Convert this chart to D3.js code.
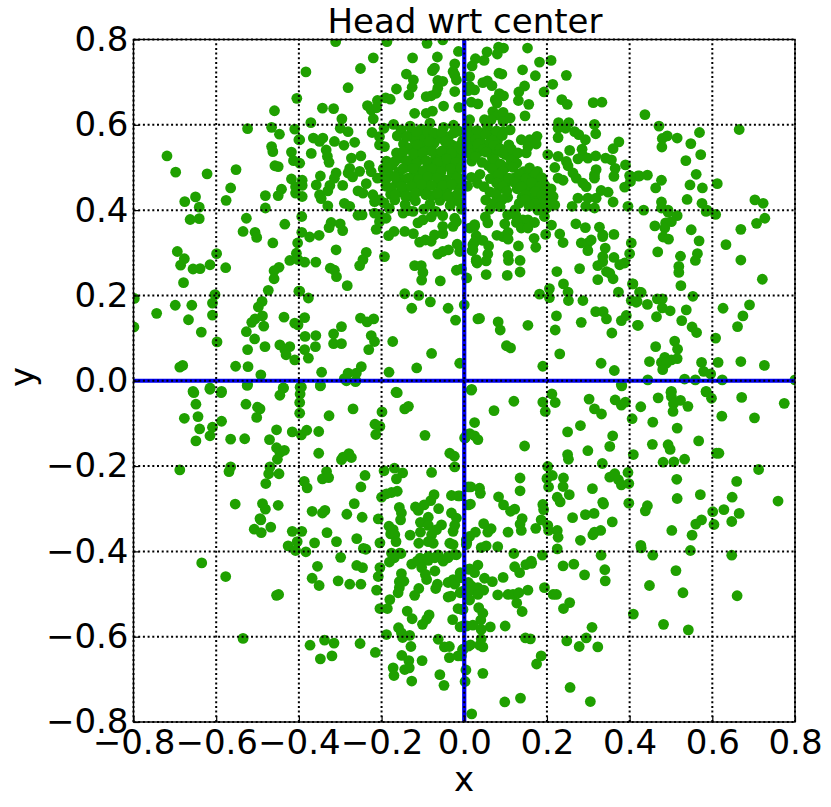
<!DOCTYPE html>
<html><head><meta charset="utf-8">
<script src="https://cdn.jsdelivr.net/npm/d3@7/dist/d3.min.js"></script>
<style>html,body{margin:0;padding:0;background:#fff}svg{display:block}text{font-family:"DejaVu Sans",sans-serif;fill:#000}</style>
</head><body><svg id="c" width="831" height="807"></svg>
<script>
const titleText = "Head wrt center";
const xLabel = "x", yLabel = "y";
const tickValues = [-0.8,-0.6,-0.4,-0.2,0,0.2,0.4,0.6,0.8];

const upperLeft = [[-.719,.527],[-.698,.489],[-.622,.485],[-.552,.495],[-.565,.452],[-.576,.423],[-.65,.431],[-.676,.42],[-.641,.407],[-.524,.591],[-.459,.633],[-.466,.594],[-.447,.578],[-.41,.59],[-.405,.662],[-.4,.565],[-.466,.549],[-.463,.537],[-.418,.536],[-.413,.516],[-.458,.504],[-.45,.502],[-.418,.473],[-.442,.449],[-.45,.434],[-.481,.434],[-.408,.455],[-.408,.44],[-.481,.405]];
const upperMidLeft = [[-.311,.795],[-.187,.795],[-.09,.791],[-.052,.799],[-.22,.757],[-.125,.757],[-.065,.759],[-.014,.772],[-.251,.732],[-.383,.724],[-.023,.743],[-.072,.733],[-.077,.727],[-.14,.719],[-.123,.705],[-.027,.725],[-.023,.717],[-.281,.687],[-.126,.688],[-.164,.684],[-.134,.67],[-.064,.704],[-.052,.702],[-.019,.705],[-.064,.686],[-.023,.678],[-.092,.666],[-.08,.668],[-.068,.674],[-.19,.663],[-.179,.66],[-.21,.657],[-.234,.645],[-.225,.635],[-.212,.64],[-.343,.639],[-.316,.638],[-.12,.627],[-.092,.627],[-.077,.632],[-.05,.644],[-.013,.641],[-.296,.614],[-.22,.614],[-.371,.605],[-.3,.592],[-.281,.584],[-.223,.582],[-.398,.565],[-.365,.569],[-.342,.569],[-.35,.561],[-.314,.561],[-.291,.552],[-.265,.559],[-.37,.533],[-.334,.541],[-.331,.526],[-.327,.512],[-.273,.522],[-.25,.527],[-.205,.553],[-.193,.549],[-.205,.572],[-.398,.51],[-.31,.487],[-.314,.475],[-.277,.498],[-.281,.487],[-.253,.491],[-.27,.478],[-.348,.48],[-.358,.459],[-.325,.458],[-.392,.47],[-.392,.458],[-.392,.432],[-.35,.436],[-.346,.427],[-.33,.445],[-.294,.458],[-.237,.462],[-.257,.445],[-.245,.44],[-.221,.436],[-.29,.416],[-.277,.409],[-.33,.41],[-.217,.42],[-.205,.424],[-.23,.505],[-.225,.49],[-.21,.475]];
const denseLeft = [[-.194,.592],[-.171,.601],[-.153,.588],[-.131,.597],[-.104,.59],[-.083,.604],[-.05,.594],[-.026,.599],[-.162,.574],[-.128,.581],[-.102,.569],[-.088,.583],[-.038,.572],[-.013,.585],[-.147,.555],[-.121,.566],[-.097,.548],[-.073,.557],[-.058,.569],[-.03,.553],[-.004,.563],[-.164,.534],[-.133,.545],[-.114,.53],[-.087,.541],[-.068,.529],[-.043,.546],[-.017,.533],[-.188,.515],[-.152,.522],[-.127,.512],[-.103,.524],[-.076,.513],[-.053,.526],[-.032,.511],[-.008,.523],[-.196,.497],[-.174,.505],[-.158,.489],[-.137,.501],[-.113,.491],[-.088,.504],[-.067,.494],[-.047,.506],[-.019,.492],[-.201,.476],[-.181,.484],[-.149,.472],[-.123,.481],[-.098,.471],[-.077,.484],[-.053,.473],[-.029,.486],[-.007,.474],[-.189,.456],[-.163,.464],[-.142,.451],[-.117,.463],[-.092,.452],[-.063,.462],[-.041,.45],[-.018,.458],[-.178,.437],[-.153,.443],[-.128,.432],[-.107,.446],[-.078,.434],[-.049,.441],[-.027,.431],[-.194,.417],[-.168,.424],[-.143,.413],[-.118,.422],[-.083,.414],[-.059,.423],[-.034,.411],[-.012,.419],[-.181,.404],[-.135,.399],[-.098,.402],[-.069,.397],[-.007,.402]];
const denseFill = [[-.14,.572],[-.116,.584],[-.073,.581],[-.055,.582],[-.025,.581],[-.113,.553],[-.085,.561],[-.046,.561],[-.014,.55],[-.148,.537],[-.123,.532],[-.1,.535],[-.077,.537],[-.055,.538],[-.031,.533],[-.006,.541],[-.168,.514],[-.14,.516],[-.115,.51],[-.092,.516],[-.065,.511],[-.043,.52],[-.02,.512],[-.186,.5],[-.148,.497],[-.124,.498],[-.099,.492],[-.078,.496],[-.056,.49],[-.033,.498],[-.008,.5],[-.19,.47],[-.168,.478],[-.136,.475],[-.111,.472],[-.088,.478],[-.066,.475],[-.042,.47],[-.018,.475],[-.176,.452],[-.152,.455],[-.128,.456],[-.103,.46],[-.079,.458],[-.052,.458],[-.03,.46],[-.008,.45],[-.167,.436],[-.142,.432],[-.118,.44],[-.093,.436],[-.065,.44],[-.04,.432],[-.016,.438],[.021,.58],[.043,.58],[.066,.58],[.02,.56],[.041,.558],[.062,.558],[.08,.562],[.02,.54],[.04,.538],[.06,.54],[.08,.538],[.018,.515],[.058,.505],[.08,.505],[.1,.5],[.1,.53],[.12,.525],[.075,.48],[.095,.472],[.12,.475],[.14,.472],[.16,.478],[.18,.468],[.1,.46],[.128,.45],[.15,.45],[.17,.455],[.195,.458],[.085,.45],[.16,.43],[.18,.432],[.14,.43],[.105,.43],[.19,.415],[.16,.418],[.21,.45],[.205,.43]];
const upperMidRight = [[.153,.78],[.083,.782],[.095,.78],[.055,.771],[.08,.766],[.027,.755],[.048,.751],[.019,.738],[.182,.747],[.21,.751],[.141,.729],[.084,.721],[.091,.719],[.172,.715],[.247,.716],[.013,.713],[.013,.69],[.009,.68],[.025,.682],[.045,.699],[.056,.703],[.067,.692],[.146,.691],[.214,.695],[.132,.677],[.193,.677],[.085,.673],[.095,.668],[.131,.657],[.156,.648],[.075,.659],[.079,.651],[.017,.653],[.033,.649],[.236,.659],[.249,.648],[.312,.652],[.333,.653],[.069,.631],[.081,.623],[.094,.629],[.147,.621],[.111,.616],[.049,.612],[.065,.612],[.013,.612],[.094,.608],[.228,.605],[.253,.605],[.315,.601],[.227,.592],[.245,.592],[.094,.584],[.111,.588],[.267,.584],[.277,.577],[.293,.565],[.318,.579],[.227,.57],[.374,.56],[.36,.544],[.138,.565],[.158,.565],[.176,.573],[.174,.555],[.108,.553],[.114,.543],[.13,.534],[.154,.549],[.15,.534],[.255,.54],[.285,.543],[.202,.53],[.227,.526],[.287,.528],[.299,.522],[.318,.527],[.275,.52],[.342,.522],[.356,.518],[.247,.514],[.251,.504],[.219,.5],[.39,.506],[.365,.498],[.319,.495],[.315,.483],[.315,.475],[.362,.479],[.4,.481],[.42,.48],[.263,.487],[.271,.475],[.227,.475],[.239,.47],[.388,.454],[.287,.463],[.295,.455],[.331,.446],[.348,.442],[.275,.428],[.299,.428],[.319,.428],[.36,.419],[.215,.432],[.206,.416],[.219,.412],[.261,.409],[.294,.409],[.396,.409],[.315,.405]];
const denseRight = [[.008,.593],[.031,.587],[.056,.596],[.078,.586],[.012,.572],[.028,.566],[.052,.578],[.068,.564],[.092,.575],[.007,.548],[.033,.556],[.047,.543],[.072,.552],[.087,.544],[.013,.533],[.027,.525],[.053,.536],[.068,.522],[.093,.534],[.043,.512],[.073,.519],[.088,.508],[.113,.517],[.127,.51],[.067,.497],[.093,.491],[.118,.5],[.143,.49],[.158,.499],[.177,.491],[.017,.477],[.038,.484],[.063,.474],[.082,.483],[.108,.475],[.133,.485],[.148,.473],[.172,.484],[.188,.476],[.008,.456],[.032,.463],[.048,.455],[.078,.464],[.093,.456],[.122,.465],[.137,.455],[.163,.464],[.183,.455],[.062,.443],[.077,.436],[.103,.444],[.148,.436],[.172,.444],[.188,.435],[.203,.443],[.052,.424],[.073,.417],[.092,.425],[.133,.416],[.147,.425],[.172,.416],[.193,.424],[.062,.402],[.087,.408],[.123,.401],[.157,.409],[.178,.4],[.2,.405]];
const upperRight = [[.437,.624],[.471,.597],[.569,.582],[.665,.589],[.491,.574],[.479,.568],[.515,.569],[.478,.548],[.548,.556],[.572,.53],[.536,.516],[.561,.484],[.424,.48],[.443,.482],[.402,.479],[.402,.467],[.477,.47],[.463,.452],[.546,.459],[.576,.452],[.612,.462],[.539,.425],[.477,.419],[.575,.416],[.703,.424],[.723,.416],[.434,.4],[.477,.405],[.493,.4],[.587,.4]];
const midLeft = [[-.663,.378],[-.641,.38],[-.527,.381],[-.434,.367],[-.535,.35],[-.506,.348],[-.502,.336],[-.463,.323],[-.403,.323],[-.694,.303],[-.599,.298],[-.677,.286],[-.686,.271],[-.615,.272],[-.656,.262],[-.639,.263],[-.577,.265],[-.448,.266],[-.46,.258],[-.422,.282],[-.406,.299],[-.402,.284],[-.46,.239],[-.679,.23],[-.474,.212],[-.4,.21],[-.603,.202],[-.798,.193],[-.609,.182],[-.699,.177],[-.659,.177],[-.744,.158],[-.609,.154],[-.489,.186],[-.498,.173],[-.488,.152],[-.506,.145],[-.514,.137],[-.667,.143],[-.436,.149],[-.41,.135],[-.402,.131],[-.485,.128],[-.799,.126],[-.636,.114],[-.527,.115],[-.507,.098],[-.598,.091],[-.524,.073],[-.482,.08],[-.446,.084],[-.422,.08],[-.434,.073],[-.431,.061],[-.41,.049],[-.688,.032],[-.681,.036],[-.553,.034],[-.523,.033],[-.492,.014],[-.524,-.009],[-.615,-.017],[-.587,-.025],[-.656,-.025],[-.438,-.017]];
const midCenterLeft = [[-.393,.385],[-.257,.388],[-.247,.389],[-.217,.393],[-.205,.389],[-.189,.381],[-.205,.373],[-.213,.355],[-.148,.393],[-.124,.397],[-.112,.37],[-.1,.377],[-.08,.384],[-.052,.387],[-.023,.381],[-.322,.371],[-.327,.359],[-.3,.368],[-.294,.352],[-.393,.348],[-.374,.337],[-.351,.341],[-.17,.35],[-.183,.34],[-.144,.35],[-.123,.345],[-.108,.325],[-.094,.33],[-.08,.327],[-.072,.342],[-.052,.345],[-.052,.362],[-.027,.362],[-.019,.373],[-.31,.307],[-.237,.301],[-.245,.284],[-.253,.27],[-.193,.291],[-.064,.297],[-.052,.303],[-.038,.307],[-.017,.32],[-.011,.303],[-.386,.278],[-.359,.278],[-.324,.264],[-.314,.259],[-.309,.244],[-.283,.223],[-.12,.27],[-.104,.27],[-.1,.254],[-.103,.236],[-.019,.259],[-.007,.262],[-.058,.234],[-.144,.204],[-.11,.2],[-.082,.185],[-.377,.194],[-.398,.21],[-.127,.17],[-.039,.17],[0,.178],[-.021,.142],[-.386,.148],[-.251,.147],[-.235,.138],[-.219,.145],[-.297,.127],[-.385,.104],[-.359,.106],[-.316,.11],[-.316,.087],[-.297,.087],[-.36,.08],[-.225,.106],[-.217,.092],[-.231,.073],[-.173,.092],[-.386,.073],[-.377,.053],[-.079,.064],[-.011,.041],[-.249,.033],[-.115,.03],[-.182,.02],[-.345,.02],[-.281,.018],[-.29,.005],[-.261,.018],[-.263,-.002],[-.394,-.015],[-.348,-.011],[-.165,-.027]];
const midCenterRight = [[.025,.362],[.013,.358],[.021,.319],[.019,.305],[.029,.28],[.033,.145],[.018,-.02],[.051,.384],[.057,.37],[.025,.366],[.098,.368],[.105,.389],[.125,.387],[.142,.377],[.154,.377],[.17,.371],[.126,.371],[.138,.358],[.154,.358],[.194,.385],[.211,.365],[.27,.368],[.293,.359],[.231,.344],[.239,.324],[.197,.343],[.169,.334],[.173,.313],[.079,.341],[.094,.338],[.106,.348],[.106,.332],[.131,.316],[.029,.34],[.025,.325],[.021,.307],[.045,.329],[.059,.316],[.057,.297],[.053,.281],[.029,.284],[.031,.276],[.106,.294],[.107,.282],[.135,.282],[.135,.255],[.053,.249],[.104,.247],[.006,.241],[.224,.256],[.279,.263],[.24,.227],[.323,.237],[.206,.216],[.206,.195],[.251,.208],[.252,.188],[.182,.203],[.287,.188],[.373,.208],[.283,.323],[.299,.323],[.307,.33],[.327,.36],[.335,.342],[.335,.338],[.362,.343],[.299,.305],[.341,.311],[.335,.291],[.335,.279],[.362,.289],[.376,.272],[.388,.276],[.323,.27],[.404,.323],[.4,.298],[.344,.256],[.352,.252],[.36,.239],[.407,.227],[.424,.208],[.404,.188],[.416,.184],[.318,.162],[.336,.162],[.344,.145],[.38,.141],[.392,.153],[.419,.13],[.223,.152],[.283,.137],[.22,.119],[.357,.112],[.037,.146],[.082,.138],[.087,.119],[.154,.13],[.102,.082],[.112,.077],[.231,.063],[.331,.041],[.363,.024],[.19,.034],[.38,-.009]];
const midRight = [[.493,.395],[.515,.387],[.501,.373],[.487,.37],[.461,.363],[.485,.358],[.585,.397],[.608,.39],[.549,.354],[.727,.381],[.707,.369],[.669,.355],[.481,.337],[.494,.332],[.568,.328],[.633,.319],[.468,.302],[.523,.292],[.564,.298],[.559,.282],[.669,.283],[.519,.268],[.519,.254],[.721,.238],[.524,.223],[.408,.227],[.428,.207],[.418,.186],[.467,.192],[.479,.192],[.553,.198],[.443,.179],[.479,.171],[.498,.164],[.537,.166],[.626,.17],[.69,.178],[.465,.15],[.526,.141],[.674,.152],[.421,.13],[.661,.127],[.551,.126],[.562,.113],[.608,.1],[.509,.093],[.463,.08],[.516,.074],[.448,.045],[.485,.055],[.477,.043],[.501,.049],[.515,.052],[.489,.041],[.48,.026],[.574,.043],[.614,.043],[.669,.045],[.726,.036],[.579,.022],[.596,.016],[.444,.002],[.533,.004],[.559,.002],[.624,.002],[.8,.002],[.501,-.025],[.585,-.025]];
const lowerLeft = [[-.654,-.028],[-.615,-.02],[-.588,-.028],[-.525,-.011],[-.437,-.017],[-.446,-.034],[-.397,-.015],[-.397,-.031],[-.398,-.051],[-.398,-.076],[-.348,-.012],[-.285,0],[-.262,0],[-.162,-.028],[-.649,-.055],[-.528,-.055],[-.5,-.062],[-.494,-.066],[-.502,-.086],[-.644,-.084],[-.677,-.088],[-.269,-.066],[-.327,-.082],[-.199,-.073],[-.144,-.066],[-.135,-.06],[-.587,-.095],[-.609,-.109],[-.64,-.113],[-.615,-.129],[-.649,-.141],[-.565,-.137],[-.531,-.136],[-.454,-.115],[-.471,-.138],[-.416,-.12],[-.394,-.127],[-.381,-.116],[-.352,-.119],[-.216,-.102],[-.204,-.107],[-.214,-.126],[-.095,-.128],[.006,-.127],[.002,-.134],[-.454,-.157],[-.446,-.168],[-.435,-.163],[-.452,-.184],[-.352,-.17],[-.293,-.179],[-.279,-.171],[-.273,-.18],[-.297,-.185],[-.035,-.17],[-.024,-.177],[-.023,-.202],[-.688,-.209],[-.565,-.202],[-.569,-.213],[-.47,-.202],[-.473,-.218],[-.448,-.218],[-.48,-.241],[-.387,-.236],[-.38,-.251],[-.333,-.213],[-.343,-.23],[-.328,-.227],[-.24,-.222],[-.194,-.211],[-.169,-.205],[-.149,-.216],[-.164,-.23],[-.079,-.215],[-.25,-.249],[-.554,-.289],[-.488,-.288],[-.481,-.301],[-.45,-.292],[-.2,-.273],[-.188,-.265],[-.176,-.262],[-.162,-.259],[-.031,-.269],[-.015,-.27],[-.073,-.267],[-.081,-.281],[-.097,-.291],[-.118,-.296],[-.111,-.304],[-.266,-.288],[-.368,-.306],[-.343,-.31],[-.337,-.304],[-.284,-.313],[-.247,-.32],[-.157,-.297],[-.152,-.31],[-.154,-.326],[-.062,-.3],[-.031,-.31],[-.019,-.322],[.01,-.291],[-.494,-.323],[-.492,-.326],[-.468,-.343],[-.508,-.348],[-.491,-.356],[-.416,-.353],[-.393,-.353],[-.332,-.356],[-.208,-.324],[-.182,-.341],[-.172,-.349],[-.178,-.359],[-.168,-.361],[-.165,-.377],[-.131,-.362],[-.106,-.332],[-.087,-.32],[-.087,-.339],[-.106,-.355],[-.055,-.338],[-.067,-.349],[-.079,-.361],[-.023,-.339],[-.027,-.353],[-.404,-.377],[-.426,-.387],[-.408,-.398],[-.383,-.401],[-.362,-.38],[-.309,-.377],[-.26,-.37],[-.244,-.393],[-.238,-.395],[-.204,-.38],[-.11,-.381],[-.075,-.381],[-.087,-.377],[-.035,-.381],[-.027,-.384],[-.176,-.404],[-.156,-.404],[.006,-.38],[.01,-.249],[-.107,-.416],[-.087,-.412],[-.063,-.408],[-.039,-.412],[-.019,-.408]];
const lowerRight = [[.017,-.022],[.12,-.048],[.072,-.07],[.19,-.05],[.196,-.072],[.212,-.031],[.22,-.051],[.302,-.043],[.315,-.066],[.332,-.078],[.381,-.012],[.365,-.045],[.38,-.057],[.39,-.05],[.427,-.061],[.469,-.04],[.5,-.027],[.501,-.037],[.506,-.054],[.523,-.046],[.505,-.072],[.541,-.06],[.585,-.026],[.598,-.041],[.671,-.039],[.774,-.053],[.623,-.083],[.702,-.087],[.406,-.089],[.456,-.097],[.515,-.111],[.025,-.098],[.281,-.105],[.25,-.12],[.359,-.129],[.013,-.124],[.025,-.129],[.033,-.138],[.001,-.134],[.146,-.153],[.352,-.154],[.299,-.164],[.25,-.173],[.252,-.184],[.409,-.173],[.455,-.149],[.493,-.15],[.498,-.161],[.567,-.141],[.61,-.17],[.616,-.17],[.481,-.191],[.507,-.19],[.533,-.184],[.334,-.194],[.202,-.201],[.712,-.208],[.396,-.215],[.352,-.226],[.364,-.218],[.373,-.232],[.38,-.244],[.398,-.241],[.213,-.222],[.2,-.229],[.24,-.228],[.239,-.248],[.204,-.249],[.135,-.228],[.514,-.231],[.659,-.236],[.016,-.249],[.037,-.252],[.039,-.264],[.135,-.258],[.31,-.253],[.254,-.267],[.225,-.273],[.232,-.284],[.083,-.272],[.095,-.291],[.015,-.289],[-.011,-.27],[.515,-.276],[.571,-.267],[.648,-.273],[.759,-.282],[.335,-.285],[.337,-.289],[.398,-.287],[.19,-.29],[.192,-.302],[.122,-.301],[.112,-.306],[.443,-.293],[.438,-.305],[.628,-.302],[.601,-.307],[.665,-.311],[.262,-.321],[.293,-.314],[.314,-.311],[.358,-.331],[.574,-.326],[.56,-.336],[.647,-.33],[.604,-.337],[.14,-.323],[.135,-.336],[.138,-.351],[.186,-.326],[.173,-.346],[.202,-.339],[.204,-.351],[.047,-.335],[.065,-.347],[.057,-.355],[.027,-.355],[.013,-.365],[.005,-.373],[.106,-.355],[.225,-.351],[.227,-.367],[.33,-.351],[.315,-.355],[.311,-.361],[.502,-.351],[.551,-.362],[.281,-.374],[.427,-.386],[.428,-.392],[.041,-.391],[.053,-.387],[.081,-.389],[.225,-.394],[.547,-.398],[.005,-.384],[.12,-.405],[.189,-.409],[.331,-.409],[.456,-.409],[.647,-.409],[.162,-.423]];
const bottomLeft = [[-.635,-.427],[-.577,-.459],[-.454,-.503],[-.449,-.501],[-.535,-.604],[-.299,-.414],[-.355,-.435],[-.368,-.463],[-.351,-.48],[-.305,-.469],[-.277,-.477],[-.26,-.433],[-.246,-.438],[-.25,-.477],[-.204,-.438],[-.208,-.459],[-.212,-.491],[-.181,-.425],[-.169,-.415],[-.153,-.405],[-.127,-.43],[-.114,-.423],[-.099,-.419],[-.087,-.421],[-.103,-.438],[-.071,-.446],[-.094,-.454],[-.091,-.466],[-.071,-.415],[-.051,-.423],[-.039,-.415],[-.023,-.407],[-.152,-.452],[-.157,-.471],[-.146,-.47],[-.157,-.485],[-.16,-.497],[-.11,-.487],[-.12,-.503],[-.065,-.477],[-.069,-.487],[-.039,-.473],[-.027,-.466],[-.023,-.477],[-.01,-.45],[-.01,-.462],[-.01,-.497],[-.039,-.507],[-.032,-.505],[.01,-.442],[.01,-.473],[.01,-.512],[-.18,-.513],[-.204,-.534],[-.186,-.534],[-.138,-.54],[-.126,-.558],[-.085,-.549],[-.091,-.559],[-.101,-.571],[-.028,-.56],[-.015,-.534],[-.006,-.536],[-.01,-.577],[.006,-.575],[-.159,-.579],[-.152,-.591],[-.149,-.602],[-.132,-.597],[-.188,-.595],[-.338,-.608],[-.315,-.615],[-.373,-.62],[-.252,-.616],[-.215,-.637],[-.348,-.652],[-.32,-.645],[-.063,-.606],[-.048,-.624],[-.036,-.623],[-.129,-.623],[-.151,-.644],[-.134,-.656],[-.102,-.656],[-.036,-.649],[-.015,-.645],[-.004,-.63],[-.172,-.673],[-.17,-.691],[-.144,-.677],[-.133,-.673],[-.127,-.704],[-.059,-.689],[-.049,-.714],[.004,-.678],[.002,-.705],[.01,-.622],[.018,-.781]];
const bottomRight = [[.122,-.436],[.149,-.431],[.163,-.428],[.033,-.432],[.013,-.441],[.025,-.45],[.134,-.45],[.239,-.434],[.265,-.43],[.34,-.443],[.291,-.455],[.341,-.469],[.512,-.445],[.049,-.463],[.068,-.471],[.094,-.461],[.448,-.48],[.529,-.497],[.66,-.504],[.194,-.485],[.154,-.491],[.081,-.502],[.106,-.501],[.118,-.501],[.132,-.497],[.017,-.481],[.033,-.485],[.047,-.491],[.013,-.493],[.033,-.501],[.013,-.514],[-.003,-.493],[.215,-.501],[.223,-.501],[.255,-.52],[.24,-.534],[.127,-.521],[.14,-.541],[.035,-.532],[.045,-.545],[.04,-.561],[-.003,-.536],[.409,-.547],[.482,-.571],[.542,-.584],[.309,-.578],[.021,-.573],[-.003,-.575],[.099,-.575],[.063,-.577],[.041,-.583],[.148,-.603],[.16,-.605],[.041,-.605],[.037,-.62],[.045,-.624],[.015,-.619],[.248,-.61],[.295,-.603],[.278,-.623],[.323,-.624],[.186,-.645],[.175,-.664],[-.003,-.63],[-.007,-.645],[.045,-.686],[.256,-.719],[.305,-.752],[.136,-.744],[.098,-.753]];

const allPoints = [upperLeft, upperMidLeft, denseLeft, denseFill, upperMidRight, denseRight, upperRight, midLeft, midCenterLeft, midCenterRight, midRight, lowerLeft, lowerRight, bottomLeft, bottomRight].flat();

const svg = d3.select("#c");
const left = 133.5, right = 795, top_ = 39.5, bottom = 722;
const x = d3.scaleLinear().domain([-0.8,0.8]).range([left,right]);
const y = d3.scaleLinear().domain([-0.8,0.8]).range([bottom,top_]);
const fmt = v => d3.format(".1f")(v).replace("-", "\u2212");

svg.append("defs").append("clipPath").attr("id","plot").append("rect")
  .attr("x",left).attr("y",top_).attr("width",right-left).attr("height",bottom-top_);

svg.append("g").attr("clip-path","url(#plot)").selectAll("circle").data(allPoints).join("circle")
  .attr("cx",d=>x(d[0])).attr("cy",d=>y(d[1])).attr("r",5.4).attr("fill","#1fa000");

// zero lines
const zero = svg.append("g").attr("stroke","#0000f0").attr("stroke-width",4.2);
zero.append("line").attr("x1",x(0)).attr("x2",x(0)).attr("y1",top_).attr("y2",bottom);
zero.append("line").attr("x1",left).attr("x2",right).attr("y1",y(0)).attr("y2",y(0));

// grid
const grid = svg.append("g").attr("fill","none").attr("stroke","#000").attr("stroke-width",2).attr("stroke-dasharray","2 2.7");
grid.selectAll(".gx").data(tickValues).join("line").attr("class","gx")
  .attr("x1",d=>x(d)).attr("x2",d=>x(d)).attr("y1",bottom).attr("y2",top_);
grid.selectAll(".gy").data(tickValues).join("line").attr("class","gy")
  .attr("y1",d=>y(d)).attr("y2",d=>y(d)).attr("x1",left).attr("x2",right);

svg.append("rect").attr("x",left).attr("y",top_).attr("width",right-left).attr("height",bottom-top_)
  .attr("fill","none").attr("stroke","#000").attr("stroke-width",1.4);

const style = g => { g.select(".domain").remove();
  g.selectAll(".tick line").attr("stroke","#000").attr("stroke-width",1.2);
  g.selectAll(".tick text").attr("font-size",34).style("font-family",'"DejaVu Sans",sans-serif'); };
svg.append("g").attr("transform",`translate(0,${bottom})`)
  .call(d3.axisBottom(x).tickValues(tickValues).tickFormat(fmt).tickSize(-6).tickPadding(8)).call(style);
svg.append("g").attr("transform",`translate(${left},0)`)
  .call(d3.axisLeft(y).tickValues(tickValues).tickFormat(fmt).tickSize(-6).tickPadding(5)).call(style);

svg.append("text").attr("x",465).attr("y",33).attr("text-anchor","middle").attr("font-size",34).text(titleText);
svg.append("text").attr("x",464).attr("y",791).attr("text-anchor","middle").attr("font-size",34).text(xLabel);
svg.append("text").attr("transform","translate(34,377) rotate(-90)").attr("text-anchor","middle").attr("font-size",34).text(yLabel);
</script></body></html>
